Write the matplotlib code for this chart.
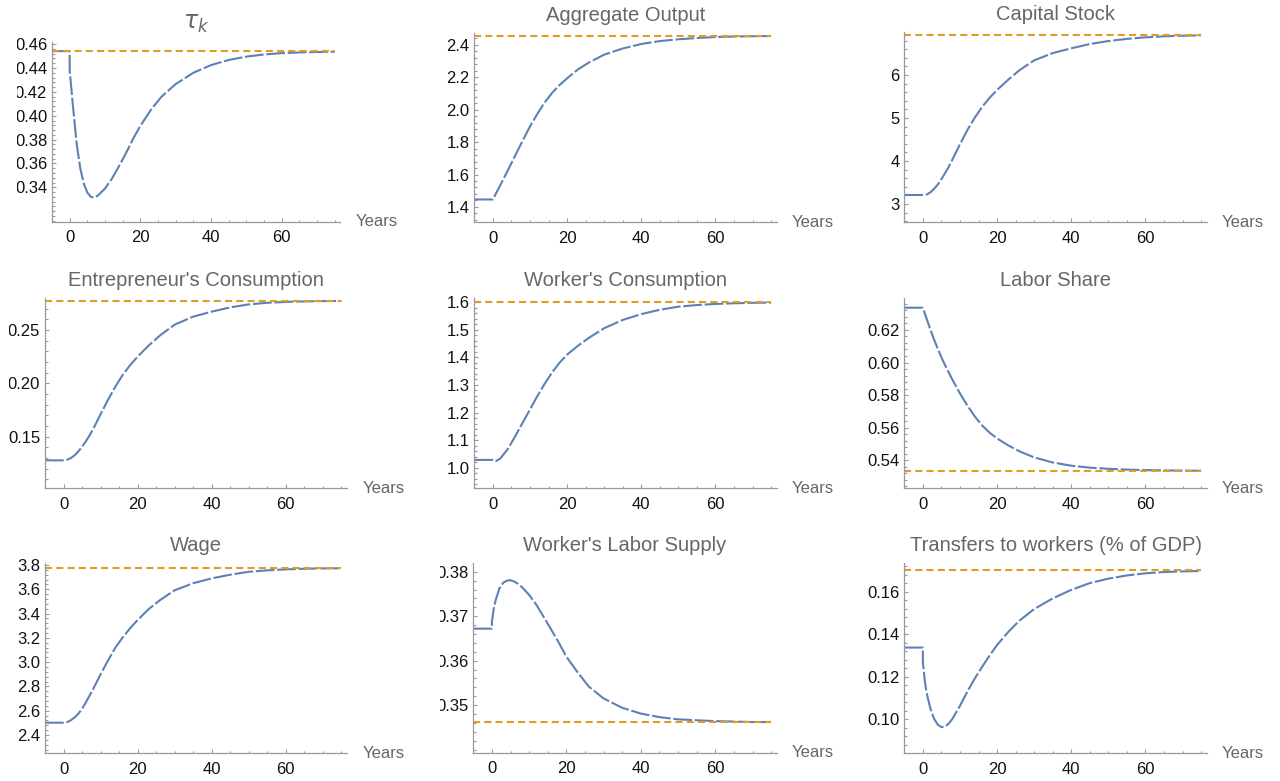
import matplotlib
matplotlib.use('Agg')
import matplotlib.pyplot as plt
from matplotlib.ticker import MultipleLocator, AutoMinorLocator, FormatStrFormatter
from matplotlib.transforms import Bbox, TransformedBbox

plt.rcParams['font.family'] = ['Liberation Sans', 'DejaVu Sans']

# time grid (0 appears twice: value just before and just after the reform)
years = [-5, 0, 0, 0.5, 1, 2, 3, 4, 5, 6, 7, 8, 10, 12, 14, 16, 18, 20,
         23, 26, 30, 35, 40, 45, 50, 55, 60, 65, 70, 75]

tau_k = [0.4541, 0.4541, 0.438, 0.422, 0.406, 0.376, 0.356, 0.343, 0.3357, 0.332,
         0.3316, 0.3332, 0.3390, 0.3475, 0.3580, 0.3690, 0.3810, 0.3915,
         0.4050, 0.4160, 0.4265, 0.4360, 0.4424, 0.4467, 0.4495, 0.4513,
         0.4524, 0.4530, 0.4534, 0.4536]
output = [1.446, 1.446, 1.446, 1.468, 1.490, 1.534, 1.579, 1.624, 1.670, 1.716,
          1.762, 1.808, 1.896, 1.975, 2.046, 2.105, 2.153, 2.194,
          2.250, 2.293, 2.340, 2.378, 2.406, 2.424, 2.435, 2.443,
          2.449, 2.452, 2.454, 2.455]
capital = [3.21, 3.21, 3.21, 3.212, 3.22, 3.27, 3.35, 3.45, 3.58, 3.72,
           3.87, 4.04, 4.39, 4.72, 5.01, 5.26, 5.47, 5.65,
           5.89, 6.11, 6.34, 6.51, 6.62, 6.72, 6.79, 6.84,
           6.876, 6.90, 6.914, 6.922]
cons_ent = [0.1278, 0.1278, 0.1278, 0.1279, 0.1284, 0.1300, 0.1325, 0.1362, 0.1405, 0.1455,
            0.1510, 0.1572, 0.1710, 0.1845, 0.1970, 0.2080, 0.2172, 0.2250,
            0.2355, 0.2448, 0.2550, 0.2625, 0.2672, 0.2712, 0.2740, 0.2755,
            0.2763, 0.2768, 0.2771, 0.2772]
cons_work = [1.028, 1.028, 1.028, 1.024, 1.025, 1.033, 1.050, 1.067, 1.090, 1.113,
             1.138, 1.162, 1.211, 1.260, 1.305, 1.346, 1.381, 1.410,
             1.443, 1.472, 1.506, 1.536, 1.557, 1.573, 1.584, 1.590,
             1.594, 1.5965, 1.598, 1.599]
labor_share = [0.6337, 0.6337, 0.6337, 0.6303, 0.6270, 0.6205, 0.6143, 0.6085, 0.6032, 0.5983,
               0.5937, 0.5893, 0.5810, 0.5735, 0.5668, 0.5612, 0.5568, 0.5533,
               0.5490, 0.5454, 0.5416, 0.5385, 0.5365, 0.5353, 0.5346, 0.5341,
               0.5338, 0.5336, 0.5335, 0.5334]
wage = [2.501, 2.501, 2.501, 2.502, 2.506, 2.522, 2.545, 2.575, 2.615, 2.667,
        2.723, 2.778, 2.900, 3.013, 3.120, 3.205, 3.280, 3.347,
        3.437, 3.510, 3.592, 3.650, 3.690, 3.720, 3.744, 3.756,
        3.764, 3.769, 3.772, 3.773]
labor_supply = [0.3672, 0.3672, 0.3688, 0.3717, 0.3736, 0.3762, 0.3775, 0.3780, 0.3781, 0.3778,
                0.3773, 0.3766, 0.3748, 0.3725, 0.3697, 0.3669, 0.3640, 0.3609,
                0.3574, 0.3542, 0.3515, 0.3494, 0.3481, 0.3473, 0.3468, 0.3466,
                0.3464, 0.3463, 0.3462, 0.3462]
transfers = [0.1337, 0.1337, 0.1270, 0.1185, 0.1125, 0.1052, 0.1003, 0.0975, 0.0963, 0.0966,
             0.0980, 0.1003, 0.1063, 0.1130, 0.1192, 0.1247, 0.1300, 0.1349,
             0.1410, 0.1463, 0.1518, 0.1568, 0.1608, 0.1640, 0.1661, 0.1676,
             0.1686, 0.1692, 0.1695, 0.1697]

titles = [r'$\tau_k$', 'Aggregate Output', 'Capital Stock',
          "Entrepreneur's Consumption", "Worker's Consumption", 'Labor Share',
          'Wage', "Worker's Labor Supply", 'Transfers to workers (% of GDP)']
series = [tau_k, output, capital, cons_ent, cons_work, labor_share,
          wage, labor_supply, transfers]
steady = [0.4541, 2.457, 6.937, 0.2775, 1.600, 0.5334, 3.773, 0.3461, 0.1701]

y_ticks = [[0.34, 0.36, 0.38, 0.40, 0.42, 0.44, 0.46],
           [1.4, 1.6, 1.8, 2.0, 2.2, 2.4],
           [3, 4, 5, 6],
           [0.15, 0.20, 0.25],
           [1.0, 1.1, 1.2, 1.3, 1.4, 1.5, 1.6],
           [0.54, 0.56, 0.58, 0.60, 0.62],
           [2.4, 2.6, 2.8, 3.0, 3.2, 3.4, 3.6, 3.8],
           [0.35, 0.36, 0.37, 0.38],
           [0.10, 0.12, 0.14, 0.16]]
y_fmt = ['%.2f', '%.1f', '%d', '%.2f', '%.1f', '%.2f', '%.1f', '%.2f', '%.2f']
y_lims = [(0.311, 0.462), (1.305, 2.472), (2.575, 6.993),
          (0.1016, 0.2797), (0.925, 1.6145), (0.5226, 0.6395),
          (2.249, 3.814), (0.3393, 0.3819), (0.084, 0.1733)]

# axes boxes in pixels: left, right, top, bottom ; and left clip edge for y labels
boxes = [(52, 340, 41.7, 222), (474.3, 776.7, 33.3, 222.3), (904.3, 1206.7, 32.3, 222.3),
         (45, 347, 298.3, 488.3), (474.3, 776.7, 298.3, 488.3), (904.3, 1206.7, 298.3, 488.3),
         (45, 347, 563.3, 753.3), (473.3, 776.7, 563.3, 752.7), (904.3, 1206.7, 563.3, 753.3)]
clips = [16.5, 0, 0, 8.5, 0, 867, 0, 440, 867]
title_sizes = [17, 14.5, 14.5, 14.5, 14.5, 14.5, 14.5, 14.5, 14.5]

W, H = 1280, 781
fig = plt.figure(figsize=(W / 100, H / 100), dpi=100)

blue = '#5E81B5'
orange = '#E19C24'
grey = '#999999'
txt = '#666666'

for i in range(9):
    l, r, t, b = boxes[i]
    ax = fig.add_axes([l / W, 1 - b / H, (r - l) / W, (b - t) / H])
    ax.plot(years, series[i], color=blue, lw=1.5, dashes=(9, 1.3))
    ax.plot([years[0], years[-1]], [steady[i], steady[i]], color=orange, lw=1.5,
            dashes=(3.4, 2.0))
    ax.set_xlim(-5, 76.5)
    ax.set_xticks([0, 20, 40, 60])
    ax.xaxis.set_minor_locator(MultipleLocator(5))
    ax.set_yticks(y_ticks[i])
    ax.yaxis.set_major_formatter(FormatStrFormatter(y_fmt[i]))
    ax.yaxis.set_minor_locator(AutoMinorLocator(5))
    ax.set_ylim(*y_lims[i])

    for s in ['top', 'right']:
        ax.spines[s].set_visible(False)
    for s in ['left', 'bottom']:
        ax.spines[s].set_color(grey)
        ax.spines[s].set_linewidth(0.9)
    ax.tick_params(which='both', direction='in', color=grey, width=0.8,
                   labelcolor='#111111', labelsize=12, top=False, right=False)
    ax.tick_params(which='major', length=3.2)
    ax.tick_params(which='minor', length=1.8)
    ax.tick_params(axis='x', pad=6)
    ax.tick_params(axis='y', pad=3.5)

    ax.set_title(titles[i], fontsize=title_sizes[i], color=txt, pad=9)
    ax.annotate('Years', xy=(1, 0), xycoords='axes fraction', xytext=(11, 0),
                textcoords='offset points', ha='left', va='center',
                fontsize=12, color=txt)

    if clips[i] > 0:
        cb = TransformedBbox(Bbox([[clips[i] / W, 0], [1, 1]]), fig.transFigure)
        for lab in ax.get_yticklabels():
            lab.set_clip_box(cb)
            lab.set_clip_on(True)

fig.savefig('out.png', dpi=100)
